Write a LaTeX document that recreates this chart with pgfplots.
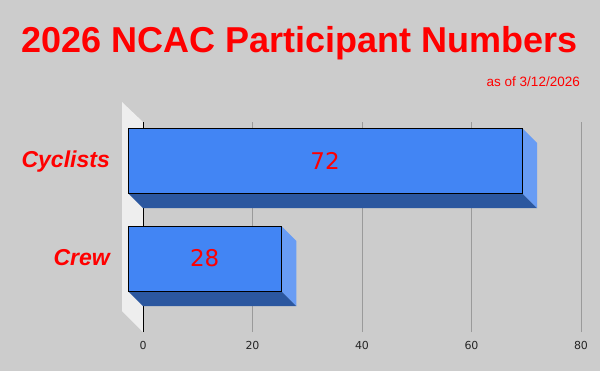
\documentclass[border=0pt]{standalone}
\usepackage{pgfplots}
\pgfplotsset{compat=1.18}
\usepackage{pgfplotstable}
\usepackage{fontspec}
\setmainfont{Liberation Sans}
\newfontfamily\dejavu{DejaVu Sans}
\definecolor{bg}{HTML}{CCCCCC}
\definecolor{barfront}{HTML}{4285F4}
\definecolor{barbottom}{HTML}{2B579F}
\definecolor{barside}{HTML}{689CF4}
\definecolor{wall}{HTML}{EEEEEE}
\definecolor{gridc}{HTML}{9A9A9A}

\pgfplotstableread{
pos value
0 28
1 72
}\data

\begin{document}
\begin{tikzpicture}
\useasboundingbox (0,0) rectangle (600bp,-371bp);
\fill[bg] (0,0) rectangle (600bp,-371bp);
\node[anchor=base, text=red, font=\bfseries\fontsize{36bp}{40bp}\selectfont, inner sep=0pt] at (300bp,-52bp) {2026 NCAC Participant Numbers};
\node[anchor=base east, text=red, font=\fontsize{13.5bp}{16bp}\selectfont, inner sep=0pt] at (580bp,-86bp) {as of 3/12/2026};
\begin{axis}[
  anchor=south west, at={(143bp,-332bp)},
  scale only axis, width=438bp, height=210bp,
  xmin=0, xmax=80, ymin=-0.596939, ymax=1.545918,
  clip=false,
  axis line style={draw=none},
  major tick length=0pt,
  xtick={0,20,40,60,80},
  xmajorgrids, grid style={gridc, line width=1bp},
  ytick={0.163265,1.163265},
  yticklabels={Crew,Cyclists},
  /pgf/number format/assume math mode=true,
  xticklabel style={font=\dejavu\fontsize{11bp}{13bp}\selectfont, text=black!85, anchor=base, inner sep=0pt, yshift=-17bp},
  yticklabel style={font=\bfseries\itshape\fontsize{23bp}{27bp}\selectfont, text=red, anchor=base east, inner sep=0pt, xshift=-33bp, yshift=-7.5bp},
]
% left wall
\addplot[fill=wall, draw=none] coordinates {(-3.8356,1.75) (0,1.545918) (0,-0.596939) (-3.8356,-0.382653)} -- cycle;
\addplot[black, line width=1bp] coordinates {(0,-0.596939) (0,1.545918)};
% 3D depth faces (Cyclists)
\addplot[fill=barbottom, draw=none] coordinates {(-2.7397,0.821429) (69.2603,0.821429) (72,0.668367) (0,0.668367)} -- cycle;
\addplot[fill=barside, draw=none] coordinates {(69.2603,1.484694) (72,1.331633) (72,0.668367) (69.2603,0.821429)} -- cycle;
% 3D depth faces (Crew)
\addplot[fill=barbottom, draw=none] coordinates {(-2.7397,-0.178571) (25.2603,-0.178571) (28,-0.331633) (0,-0.331633)} -- cycle;
\addplot[fill=barside, draw=none] coordinates {(25.2603,0.484694) (28,0.331633) (28,-0.331633) (25.2603,-0.178571)} -- cycle;
% front faces
\addplot[xbar, bar shift=0pt, fill=barfront, draw=black, line width=1bp, bar width=0.663265, xshift=-15bp, yshift=15bp] table[x=value, y=pos] {\data};
% value labels
\addplot[draw=none, mark=none, nodes near coords, point meta=explicit,
  every node near coord/.append style={anchor=center, inner sep=0pt, text=red, font=\dejavu\fontsize{23bp}{27bp}\selectfont}]
  table[x expr=\thisrow{value}/2-2.7397, y expr=\thisrow{pos}+0.153061, meta=value] {\data};
\end{axis}
\end{tikzpicture}
\end{document}
